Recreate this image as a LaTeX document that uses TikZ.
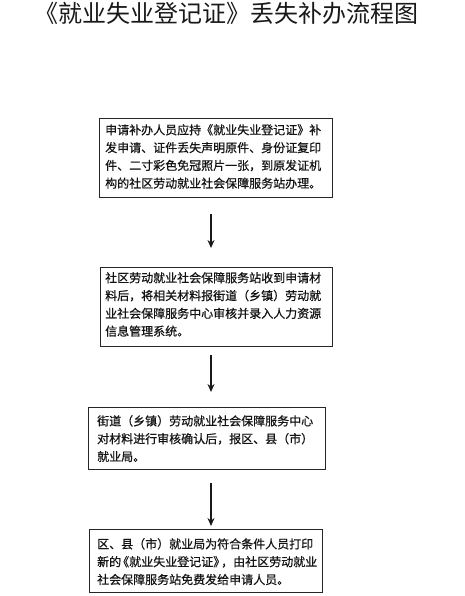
\documentclass[tikz,border=0pt]{standalone}
\usepackage{fontspec}
\setmainfont{Noto Sans CJK SC}
\newfontfamily\boxfont{Noto Sans CJK SC}[BoldFont={Noto Sans CJK SC}, BoldFeatures={FakeBold=0.7}]
\usetikzlibrary{arrows.meta,calc}
\tikzset{
  box/.style={draw=black!85, line width=1.3pt, rectangle, inner sep=0pt, anchor=north west},
  txt/.style={anchor=north west, inner sep=0pt, align=left, text=black!92,
    font=\boxfont\bfseries\fontsize{12pt}{17.8pt}\selectfont},
  arr/.style={draw=black!90, line width=1.6pt, -{Stealth[length=8pt,width=7pt]}},
  ttl/.style={inner sep=0pt, font=\fontsize{24pt}{27pt}\selectfont, text=black!90}
}
\begin{document}
\begin{tikzpicture}[x=1pt,y=-1pt]
\useasboundingbox (0,0) rectangle (465,596);
\node[ttl] (title) at (226,13) {《就业失业登记证》丢失补办流程图};
\coordinate (ax) at (211,0);
% boxes
\node[box, minimum width=233pt, minimum height=79pt] (b1) at (99,118) {};
\node[box, minimum width=232pt, minimum height=79pt] (b2) at (100,267) {};
\node[box, minimum width=237pt, minimum height=62pt] (b3) at (88,407) {};
\node[box, minimum width=233pt, minimum height=63pt] (b4) at (89,529) {};
% texts
\node[txt] (t1) at ([xshift=6pt,yshift=-6pt]b1.north west)
  {申请补办人员应持《就业失业登记证》补\\发申请、证件丢失声明原件、身份证复印\\件、二寸彩色免冠照片一张，到原发证机\\构的社区劳动就业社会保障服务站办理。};
\node[txt] (t2) at ([xshift=5pt,yshift=-5pt]b2.north west)
  {社区劳动就业社会保障服务站收到申请材\\料后，将相关材料报街道（乡镇）劳动就\\业社会保障服务中心审核并录入人力资源\\信息管理系统。};
\node[txt] (t3) at ([xshift=9pt,yshift=-8pt]b3.north west)
  {街道（乡镇）劳动就业社会保障服务中心\\对材料进行审核确认后，报区、县（市）\\就业局。};
\node[txt] (t4) at ([xshift=8pt,yshift=-9pt]b4.north west)
  {区、县（市）就业局为符合条件人员打印\\新的\kern-4pt《就业失业登记证》\kern-4pt，由社区劳动就业\\社会保障服务站免费发给申请人员。};
% arrows
\draw[arr] ([yshift=-16pt]ax |- b1.south) -- ([yshift=19pt]ax |- b2.north);
\draw[arr] ([yshift=-8pt]ax |- b2.south) -- ([yshift=15pt]ax |- b3.north);
\draw[arr] ([yshift=-13pt]ax |- b3.south) -- ([yshift=3pt]ax |- b4.north);
\end{tikzpicture}
\end{document}
